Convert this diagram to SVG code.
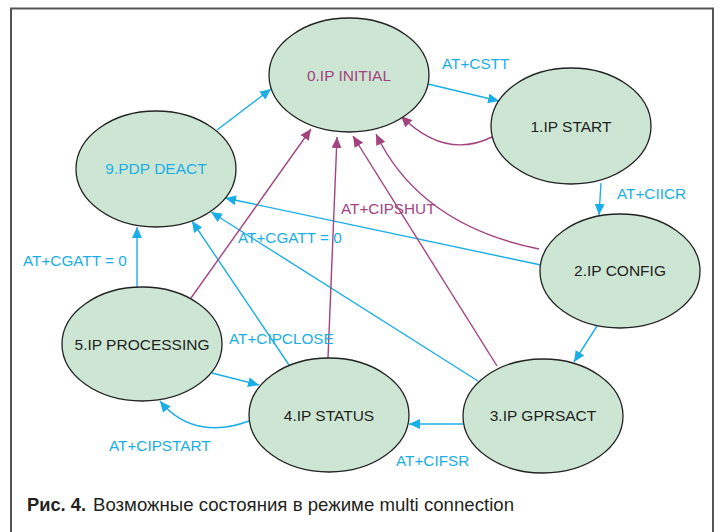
<svg xmlns="http://www.w3.org/2000/svg" width="722" height="532" viewBox="0 0 722 532">
<defs>
<style>
.node ellipse{fill:#cde6d4;stroke:#222;stroke-width:1.3}
.nt{font-family:"Liberation Sans",Arial,sans-serif;font-size:15.5px;text-anchor:middle;fill:#231f20}
.lbl{font-family:"Liberation Sans",Arial,sans-serif;font-size:15.3px}
.c{fill:none;stroke:#1aaee6;stroke-width:1.4}
.m{fill:none;stroke:#a3437f;stroke-width:1.4}
.lc{fill:#1aaee6}
.lm{fill:#a3437f}
.cap{font-family:"Liberation Sans",Arial,sans-serif;font-size:19px;fill:#231f20}
</style>
<marker id="ac" markerUnits="userSpaceOnUse" markerWidth="12" markerHeight="10" refX="11" refY="5" orient="auto"><path d="M0,0 L11,5 L0,10 z" fill="#1aaee6"/></marker>
<marker id="am" markerUnits="userSpaceOnUse" markerWidth="12" markerHeight="10" refX="11" refY="5" orient="auto"><path d="M0,0 L11,5 L0,10 z" fill="#a3437f"/></marker>
</defs>
<rect x="0" y="0" width="722" height="532" fill="#fff"/>
<rect x="11" y="8.5" width="702" height="540" fill="none" stroke="#555" stroke-width="2"/>

<g id="connectors">
<path class="c" d="M428,84 L499,101" marker-end="url(#ac)"/>
<path class="c" d="M601,183 L599,215" marker-end="url(#ac)"/>
<path class="c" d="M597,326 L574,362" marker-end="url(#ac)"/>
<path class="c" d="M463,424 L409,424" marker-end="url(#ac)"/>
<path class="c" d="M212,373 L259,385" marker-end="url(#ac)"/>
<path class="c" d="M249,421 C220,432 185,432 160,401" marker-end="url(#ac)"/>
<path class="c" d="M137,287 L137,227" marker-end="url(#ac)"/>
<path class="c" d="M541,265 L225,198" marker-end="url(#ac)"/>
<path class="c" d="M478,381 L211,212" marker-end="url(#ac)"/>
<path class="c" d="M289,365 L192,221" marker-end="url(#ac)"/>
<path class="c" d="M217,130 L271,89" marker-end="url(#ac)"/>
<path class="m" d="M492,137 Q445,160 401,116" marker-end="url(#am)"/>
<path class="m" d="M539,249 Q420,225 376,134" marker-end="url(#am)"/>
<path class="m" d="M191,298 L311,129" marker-end="url(#am)"/>
<path class="m" d="M328,358 L337,137" marker-end="url(#am)"/>
<path class="m" d="M497,366 L353,136" marker-end="url(#am)"/>
<text class="lbl lc" x="442" y="69">AT+CSTT</text>
<text class="lbl lc" x="617" y="199">AT+CIICR</text>
<text class="lbl lm" x="341" y="214">AT+CIPSHUT</text>
<text class="lbl lc" x="238" y="243">AT+CGATT = 0</text>
<text class="lbl lc" x="23" y="266">AT+CGATT = 0</text>
<text class="lbl lc" x="229" y="344">AT+CIPCLOSE</text>
<text class="lbl lc" x="396" y="466">AT+CIFSR</text>
<text class="lbl lc" x="109" y="451">AT+CIPSTART</text>
</g>

<g id="n0" class="node"><ellipse cx="349" cy="75" rx="80" ry="57"/><text class="nt" x="349" y="81" style="fill:#a3437f">0.IP INITIAL</text></g>
<g id="n1" class="node"><ellipse cx="571" cy="126" rx="80" ry="58"/><text class="nt" x="571" y="132">1.IP START</text></g>
<g id="n2" class="node"><ellipse cx="620" cy="271" rx="80" ry="57"/><text class="nt" x="620" y="276">2.IP CONFIG</text></g>
<g id="n3" class="node"><ellipse cx="543" cy="416" rx="80" ry="57"/><text class="nt" x="543" y="421">3.IP GPRSACT</text></g>
<g id="n4" class="node"><ellipse cx="329" cy="415" rx="80" ry="57"/><text class="nt" x="329" y="421">4.IP STATUS</text></g>
<g id="n5" class="node"><ellipse cx="142" cy="344" rx="80" ry="57"/><text class="nt" x="142" y="350">5.IP PROCESSING</text></g>
<g id="n9" class="node"><ellipse cx="156" cy="169" rx="80" ry="58"/><text class="nt" x="156" y="174" style="fill:#1aaee6">9.PDP DEACT</text></g>

<text class="cap" x="27" y="511" font-weight="bold" textLength="59" lengthAdjust="spacingAndGlyphs">Рис. 4.</text>
<text class="cap" x="93" y="511" textLength="421" lengthAdjust="spacingAndGlyphs">Возможные состояния в режиме multi connection</text>
</svg>
